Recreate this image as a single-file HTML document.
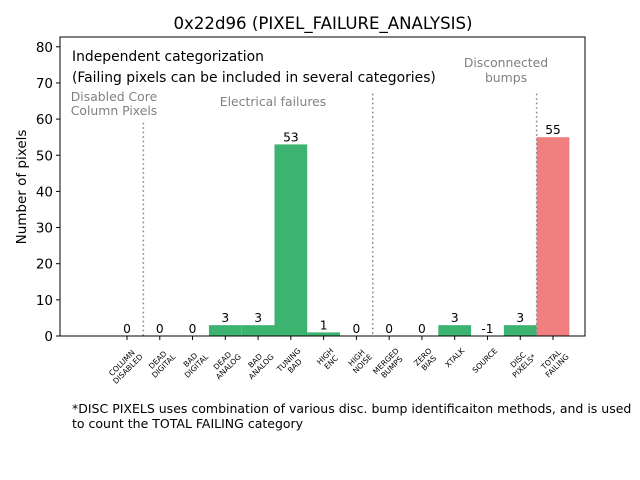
<!DOCTYPE html>
<html><head><meta charset="utf-8"><style>
body{margin:0;background:#fff}
svg{display:block;font-family:"DejaVu Sans","Liberation Sans",sans-serif}
</style></head><body>
<svg id="chart" width="640" height="480" viewBox="0 0 640 480">
<text x="323" y="29" font-size="16.6" text-anchor="middle">0x22d96 (PIXEL_FAILURE_ANALYSIS)</text>
<text transform="translate(26,187) rotate(-90)" font-size="13.5" text-anchor="middle">Number of pixels</text>
<g id="marks"></g>
<rect x="60" y="37" width="525" height="299" fill="none" stroke="#000" stroke-width="1"/>
<text x="72" y="61" font-size="13.9">Independent categorization</text>
<text x="72" y="82" font-size="13.9">(Failing pixels can be included in several categories)</text>
<g fill="#808080" font-size="12.4" text-anchor="middle">
<text x="114" y="101">Disabled Core</text>
<text x="114" y="115">Column Pixels</text>
<text x="273" y="106">Electrical failures</text>
<text x="506" y="67">Disconnected</text>
<text x="506" y="82">bumps</text>
</g>
<text x="72" y="413" font-size="12.5">*DISC PIXELS uses combination of various disc. bump identificaiton methods, and is used</text>
<text x="72" y="428" font-size="12.5">to count the TOTAL FAILING category</text>
</svg>
<script>
const categories=[["COLUMN","DISABLED"],["DEAD","DIGITAL"],["BAD","DIGITAL"],["DEAD","ANALOG"],["BAD","ANALOG"],["TUNING","BAD"],["HIGH","ENC"],["HIGH","NOISE"],["MERGED","BUMPS"],["ZERO","BIAS"],["XTALK"],["SOURCE"],["DISC","PIXELS*"],["TOTAL","FAILING"]];
const values=[0,0,0,3,3,53,1,0,0,0,3,-1,3,55];
const yTicks=[0,10,20,30,40,50,60,70,80];
const separators=[0.5,7.5,12.5];
const sepTops=[59,67,67];
const NS="http://www.w3.org/2000/svg";
const g=document.getElementById('marks');
function x(i){return 127+32.77*i;}
function y(v){return 336-v*3.615;}
function el(t,a){const e=document.createElementNS(NS,t);for(const k in a)e.setAttribute(k,a[k]);g.appendChild(e);return e;}
yTicks.forEach((t,i)=>{
  const l=el('line',{x1:56,x2:60,y1:y(t),y2:y(t),stroke:'#000'});
  
  
  const tx=el('text',{x:53,y:y(t)+5,'font-size':13.5,'text-anchor':'end'});
  tx.textContent=t;
  
  
});
values.forEach((v,i)=>{
  const col=i===categories.length-1?'#f08080':'#3cb371';
  if(v>0){
    const r=el('rect',{x:x(i-0.5),y:y(v),width:x(i+0.5)-x(i-0.5),height:y(0)-y(v),fill:col});
    
    
  }
  const t=el('text',{x:x(i),y:y(Math.max(v,0))-3,'font-size':12.2,'text-anchor':'middle'});
  t.textContent=v;
  
  
  const tk=el('line',{x1:x(i),x2:x(i),y1:336,y2:340,stroke:'#000'});
  
  
  const lab=el('text',{transform:`translate(${x(i)+6},347) rotate(-45)`,'font-size':7.6});
  
  
  const spans=categories[i].map((s,j)=>{
    const sp=document.createElementNS(NS,'tspan');
    sp.setAttribute('x',0);
    sp.setAttribute('y',6+j*8.5);
    sp.textContent=s;lab.appendChild(sp);return sp;
  });
  const w=spans.map(s=>s.getComputedTextLength());
  const W=Math.max(...w);
  spans.forEach((s,j)=>s.setAttribute('x',-W+(W-w[j])/2));
});
separators.forEach((s,i)=>{
  const l=el('line',{x1:x(s),x2:x(s),y1:y(sepTops[i]),y2:336,stroke:'#808080','stroke-width':1.5,'stroke-dasharray':'1.5,3'});
  
  
});
</script>
</body></html>
